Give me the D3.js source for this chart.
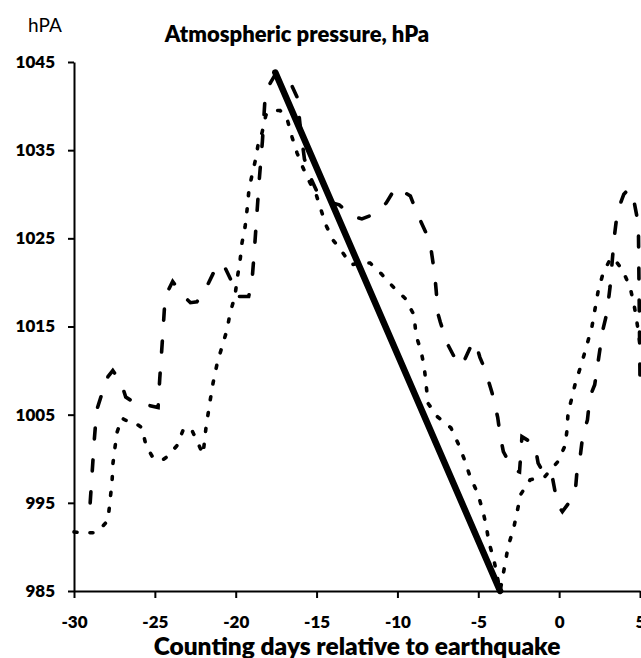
<!DOCTYPE html>
<html>
<head>
<meta charset="utf-8">
<script src="https://cdn.jsdelivr.net/npm/d3@7"></script>
<style>
  body { margin: 0; background: #fff; }
  svg { display: block; font-family: Lato, "Open Sans", sans-serif; }
</style>
</head>
<body>
<div id="chart"></div>
<script>
// dashed series (days relative to quake, hPa)
var dashedDays = [-29.0, -28.75, -28.6, -28.2, -27.9, -27.6, -27.1, -26.8, -26.3, -25.7, -24.8, -24.7, -24.55, -24.4, -24.2, -23.9,
  -23.3, -22.8, -22.4, -21.9, -21.4, -20.8, -20.3, -19.9, -19.2, -19.0, -18.85, -18.7, -18.55, -18.35, -18.2, -17.9, -17.55,
  -16.6, -16.2, -16.0, -15.75, -15.4, -14.9, -14.4, -13.6, -12.8, -12.2, -11.5, -10.7, -10.1, -9.2, -8.7, -8.2, -7.9, -7.7,
  -7.6, -7.5, -7.35, -6.9, -6.3, -6.0, -5.5, -5.2, -4.9, -4.6, -4.15, -3.8, -3.65, -3.45, -2.85, -2.45, -2.3, -1.5, -1.3,
  -0.9, -0.45, -0.1, 0.2, 0.6, 1.0, 1.1, 1.3, 1.45, 1.75, 1.9, 2.2, 2.7, 2.95, 3.15, 3.4, 3.6, 4.0, 4.3, 4.6, 4.9, 5.0];
var dashedValues = [995, 1002, 1005.5, 1007.8, 1009.3, 1010, 1008.7, 1007, 1006.4, 1006.2, 1005.8, 1009, 1013, 1017.3, 1019, 1020.1,
  1018.6, 1017.7, 1017.8, 1019.1, 1021, 1022.2, 1020.3, 1018.4, 1018.4, 1020, 1023.5, 1027.5, 1031.5, 1036, 1040.5, 1042.5, 1043.6,
  1042.6, 1041, 1037.5, 1034, 1032, 1030, 1029.2, 1028.8, 1027.5, 1027.2, 1027.7, 1029, 1030.8, 1029.8, 1027.5, 1025.5, 1023.5, 1021,
  1019, 1016.5, 1015.5, 1013, 1010.9, 1010.6, 1012.6, 1013.3, 1011.5, 1010.2, 1007.5, 1004.7, 1002.7, 1000.8, 998.8, 998.5, 1002.5, 1001.6, 999.5,
  998.2, 998.2, 994.8, 994, 995, 996.3, 998.5, 1000.2, 1002.5, 1004.4, 1007, 1008.4, 1014.6, 1016.5, 1019.5, 1025, 1028, 1030, 1030.6, 1029.5, 1026.6, 1009];

// dotted series
var dottedDays = [-30, -29.5, -28.8, -28.4, -27.9, -27.77, -27.65, -27.59, -27.45, -27.34, -27.03, -26.85, -26.1, -25.79, -25.55, -25.11,
  -24.5, -24.19, -23.63, -23.2, -22.7, -22.39, -22.02, -21.84, -21.59, -21.4, -21.16, -20.85, -20.54, -20.35, -20.04, -19.92, -19.73,
  -19.61, -19.42, -19.3, -19.18, -18.99, -18.74, -18.62, -18.37, -18.13, -17.76, -17.26, -16.83, -16.52, -16.21, -15.84, -15.41,
  -15.03, -14.79, -14.42, -13.98, -13.43, -12.87, -12.31, -11.69, -11.01, -10.27, -9.53, -8.97, -8.85, -8.54, -8.35, -8.23, -8.11,
  -7.55, -6.69, -6.19, -5.88, -5.51, -5.02, -4.71, -4.52, -4.34, -4.03, -3.65, -3.35, -3.16, -2.79, -2.54, -2.36, -1.8, -0.87, -0.07,
  0.37, 0.49, 0.55, 0.8, 0.98, 1.42, 1.73, 2.03, 2.22, 2.41, 2.71, 3.2, 3.55, 3.89, 4.38, 4.63, 4.81, 5.0];
var dottedValues = [991.7, 991.6, 991.6, 992, 993, 995.3, 997.3, 999.5, 1001.5, 1003, 1004.6, 1004.4, 1003.9, 1003.5, 1001.5, 1000.1,
  999.9, 1000.3, 1001.5, 1003.5, 1003.2, 1002, 1000.5, 1003.5, 1006.5, 1008.6, 1010.7, 1012.7, 1014.6, 1016.5, 1018.5, 1020.3, 1022.5,
  1024.5, 1026.3, 1028.2, 1030.5, 1032.2, 1034.2, 1035.6, 1037, 1039, 1039.5, 1039.5, 1038.6, 1036.5, 1034.7, 1033, 1031.3,
  1030, 1028.6, 1026.5, 1024.8, 1023.5, 1022, 1022.2, 1022.2, 1021, 1019.5, 1018.2, 1016.3, 1014, 1012.2, 1010.5, 1008.5, 1006.3,
  1004.8, 1003.5, 1001.5, 1000, 998, 996, 994, 992.5, 990.5, 988.5, 985, 988, 990, 992.3, 994.5, 996, 997.6, 998, 999.7,
  1001.5, 1003.3, 1005.2, 1007, 1008.4, 1011, 1013, 1015, 1017, 1019, 1021, 1022.8, 1022.3, 1021.5, 1019.5, 1017.5, 1015.5, 1013];

// solid drop line
var trendDays = [-17.55, -3.65];
var trendValues = [1043.8, 985];

var xTicks = [-30, -25, -20, -15, -10, -5, 0, 5];
var yTicks = [985, 995, 1005, 1015, 1025, 1035, 1045];

var W = 641, H = 658;
var margin = {top: 62, right: 1, bottom: 67, left: 74};

var svg = d3.select("#chart").append("svg")
  .attr("width", W)
  .attr("height", H);

var x = d3.scaleLinear().domain([-30, 5]).range([margin.left, W - margin.right]),
  y = d3.scaleLinear().domain([985, 1045]).range([H - margin.bottom, margin.top]);

var zip = (xs, ys) => xs.map((d, i) => [d, ys[i]]);

var line = d3.line()
  .x(d => x(d[0]))
  .y(d => y(d[1]));

// axes
svg.append("g")
  .attr("transform", "translate(" + margin.left + ",0)")
  .call(d3.axisLeft(y).tickValues(yTicks).tickFormat(d => String(d)).tickSize(6).tickSizeOuter(0).tickPadding(13));

svg.append("g")
  .attr("transform", "translate(0," + (H - margin.bottom) + ")")
  .call(d3.axisBottom(x).tickValues(xTicks).tickFormat(d => String(d)).tickSize(7).tickSizeOuter(0).tickPadding(18));

svg.selectAll(".domain, .tick line")
  .attr("stroke", "#000")
  .attr("stroke-width", 2);

svg.selectAll(".tick text")
  .attr("fill", "#000")
  .style("font-size", "17px")
  .style("font-weight", 800)
  .style("font-family", "Lato, sans-serif");

// series
svg.append("path")
  .datum(zip(dottedDays, dottedValues))
  .attr("d", line)
  .attr("fill", "none")
  .attr("stroke", "#000")
  .attr("stroke-width", 3.6)
  .attr("stroke-linecap", "round")
  .attr("stroke-dasharray", "3,13");

svg.append("path")
  .datum(zip(dashedDays, dashedValues))
  .attr("d", line)
  .attr("fill", "none")
  .attr("stroke", "#000")
  .attr("stroke-width", 3.6)
  .attr("stroke-linecap", "round")
  .attr("stroke-dasharray", "11,21");

svg.append("path")
  .datum(zip(trendDays, trendValues))
  .attr("d", line)
  .attr("fill", "none")
  .attr("stroke", "#000")
  .attr("stroke-width", 6.5)
  .attr("stroke-linecap", "round");

// texts
svg.append("text")
  .attr("x", 28)
  .attr("y", 32)
  .style("font-size", "19px")
  .text("hPA");

svg.append("text")
  .attr("x", 297)
  .attr("y", 42)
  .attr("text-anchor", "middle")
  .style("font-size", "22px")
  .style("font-weight", 800)
  .text("Atmospheric pressure, hPa");

svg.append("text")
  .attr("x", 357)
  .attr("y", 655)
  .attr("text-anchor", "middle")
  .style("font-size", "24.5px")
  .style("font-weight", 800)
  .text("Counting days relative to earthquake");
</script>
</body>
</html>
